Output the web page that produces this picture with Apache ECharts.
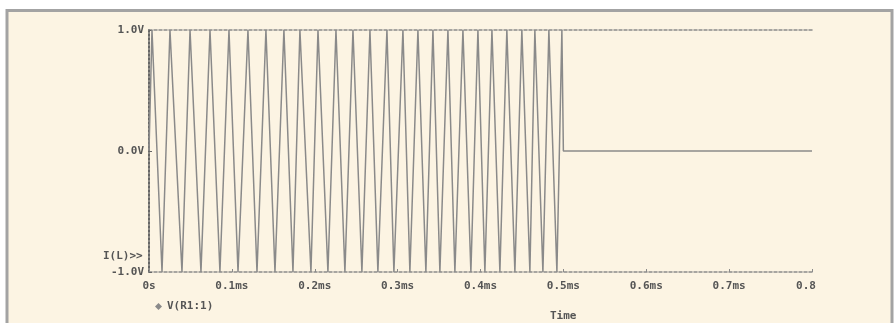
<!DOCTYPE html>
<html>
<head>
<meta charset="utf-8">
<script src="https://cdn.jsdelivr.net/npm/echarts@6/dist/echarts.min.js"></script>
<style>
html,body{margin:0;padding:0;background:#ffffff;}
#c{width:894px;height:323px;}
</style>
</head>
<body>
<div id="c"></div>
<script>
// ---- data (time in ms, voltage in V) ----
const peakTimes = [0.0036,0.0253,0.0495,0.0736,0.0965,0.1194,0.1411,0.1628,0.1821,0.2039,0.2256,0.2461,0.2666,0.2871,0.3064,0.3245,0.3426,0.3607,0.3788,0.3969,0.4138,0.4318,0.4499,0.4656,0.4825,0.4982];
const troughTimes = [0.0157,0.0398,0.0627,0.0856,0.1074,0.1303,0.1520,0.1737,0.1954,0.2159,0.2364,0.2569,0.2762,0.2955,0.3148,0.3341,0.3510,0.3691,0.3884,0.4053,0.4234,0.4415,0.4596,0.4753,0.4922];
const peakValue = 1.0;
const troughValue = -1.0;
const startPoint = [0, 0];
const tailPoints = [[0.5, 0], [0.8, 0]];
const xTickLabels = ['0s','0.1ms','0.2ms','0.3ms','0.4ms','0.5ms','0.6ms','0.7ms','0.8'];
const yTickLabels = ['-1.0V','0.0V','1.0V'];
const seriesName = 'V(R1:1)';

// build the polyline from the extremes
const extremes = peakTimes.map(t => [t, peakValue]).concat(troughTimes.map(t => [t, troughValue]));
extremes.sort((a, b) => a[0] - b[0]);
const lineData = [startPoint].concat(extremes, tailPoints);

const font = '"DejaVu Sans Mono", monospace';
const chart = echarts.init(document.getElementById('c'), null, {renderer: 'canvas'});
chart.setOption({
  backgroundColor: '#ffffff',
  animation: false,
  grid: {left: 149, right: 82, top: 30, bottom: 51, containLabel: false},
  graphic: [
    {type: 'rect', z: -10, silent: true,
     shape: {x: 7, y: 10.5, width: 885, height: 330},
     style: {fill: '#fcf4e3', stroke: '#a3a3a3', lineWidth: 3}},
    {type: 'text', left: 103, top: 251,
     style: {text: 'I(L)>>', font: 'bold 11px ' + font, fill: '#555'}},
    {type: 'text', left: 550, top: 311,
     style: {text: 'Time', font: 'bold 11px ' + font, fill: '#555'}}
  ],
  legend: {
    show: true, left: 150, top: 296, icon: 'diamond', itemWidth: 7, itemHeight: 7, itemGap: 4,
    textStyle: {fontFamily: font, fontWeight: 'bold', fontSize: 11, color: '#555'},
    data: [seriesName]
  },
  xAxis: [{
    type: 'value', min: 0, max: 0.8, interval: 0.1, position: 'bottom',
    axisLine: {show: true, onZero: false, lineStyle: {color: '#8a8a8a', width: 1.5, type: [3, 2]}},
    axisTick: {show: true, length: 3, inside: true, lineStyle: {color: '#8a8a8a'}},
    splitLine: {show: false},
    axisLabel: {
      margin: 9, fontFamily: font, fontWeight: 'bold', fontSize: 11, color: '#555',
      formatter: (v, i) => i === xTickLabels.length - 1 ? '{cut|' + xTickLabels[i] + '}' : xTickLabels[i],
      rich: {cut: {fontFamily: font, fontWeight: 'bold', fontSize: 11, color: '#555', padding: [0, 12, 0, 0]}}
    }
  }, {
    type: 'value', min: 0, max: 0.8, position: 'top',
    axisLine: {show: true, onZero: false, lineStyle: {color: '#8a8a8a', width: 1.5, type: [3, 2]}},
    axisTick: {show: false}, axisLabel: {show: false}, splitLine: {show: false}
  }],
  yAxis: {
    type: 'value', min: -1, max: 1, interval: 1,
    axisLine: {show: true, onZero: false, lineStyle: {color: '#666', width: 2, type: [2, 2]}},
    axisTick: {show: true, length: 3, inside: true, lineStyle: {color: '#666'}},
    splitLine: {show: false},
    axisLabel: {
      margin: 5, fontFamily: font, fontWeight: 'bold', fontSize: 11, color: '#555',
      formatter: (v, i) => yTickLabels[i]
    }
  },
  series: [{
    name: seriesName, type: 'line', xAxisIndex: 0, data: lineData,
    showSymbol: false, symbol: 'none', smooth: false,
    lineStyle: {color: '#8a8a8a', width: 1.5},
    itemStyle: {color: '#8a8a8a'}
  }]
});
</script>
</body>
</html>
